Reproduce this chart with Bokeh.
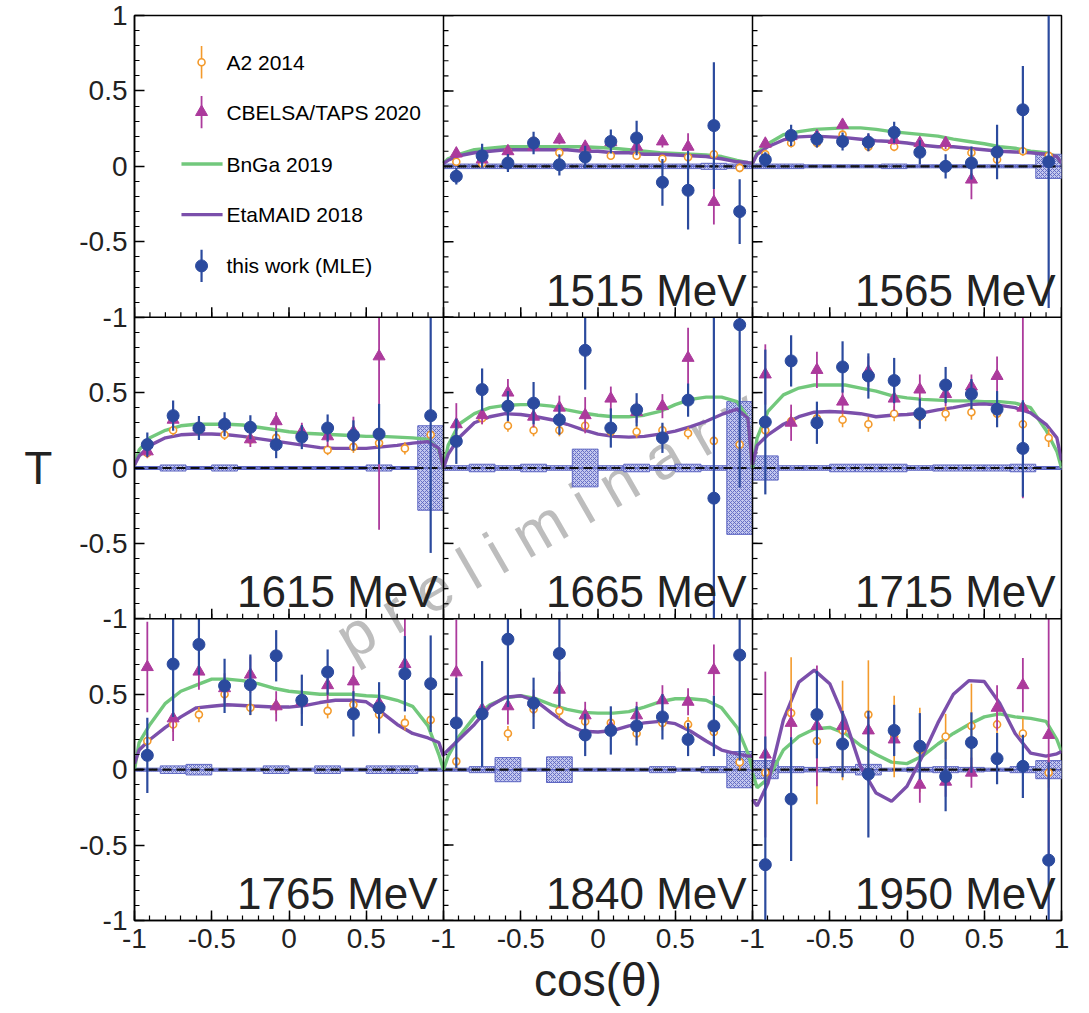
from bokeh.plotting import figure
from bokeh.models import Range1d, FixedTicker, Label, Span
from bokeh.core.properties import value
from bokeh.embed import file_html
from bokeh.resources import INLINE

NAN = float("nan")
FONT = "Liberation Sans"

# ---------------- data ----------------
ENERGIES = ["1515 MeV", "1565 MeV", "1615 MeV", "1665 MeV",
            "1715 MeV", "1765 MeV", "1840 MeV", "1950 MeV"]
PANEL_ROW = [0, 0, 1, 1, 1, 2, 2, 2]
PANEL_COL = [1, 2, 0, 1, 2, 0, 1, 2]

COS_BINS = [-0.917, -0.75, -0.583, -0.417, -0.25, -0.083,
            0.083, 0.25, 0.417, 0.583, 0.75, 0.917]
BIN_WIDTH = 1.0 / 6.0

# this work (MLE)
MLE_T = [
    [-0.066, 0.07, 0.022, 0.155, 0.01, 0.062, 0.165, 0.188, -0.106, -0.159, 0.27, -0.30],
    [0.044, 0.205, 0.18, 0.165, 0.16, 0.225, 0.093, 0.0, 0.022, 0.095, 0.375, 0.03],
    [0.155, 0.347, 0.265, 0.29, 0.27, 0.155, 0.205, 0.265, 0.216, 0.225, NAN, 0.347],
    [0.177, 0.52, 0.41, 0.43, 0.32, 0.78, 0.265, 0.386, 0.2, 0.45, -0.2, 0.95],
    [0.305, 0.71, 0.3, 0.67, 0.61, 0.58, 0.36, 0.55, 0.49, 0.39, 0.13, NAN],
    [0.095, 0.70, 0.83, 0.556, 0.563, 0.755, 0.46, 0.647, 0.37, 0.41, 0.636, 0.57],
    [0.31, 0.37, 0.865, 0.44, 0.77, 0.23, 0.26, 0.29, 0.35, 0.2, 0.29, 0.76],
    [-0.63, -0.195, 0.365, 0.17, -0.03, 0.26, 0.155, -0.045, 0.18, 0.073, 0.022, -0.6],
]
MLE_ERR = [
    [0.055, 0.08, 0.06, 0.075, 0.07, 0.075, 0.08, 0.115, 0.155, 0.26, 0.42, 0.215],
    [0.05, 0.07, 0.055, 0.06, 0.06, 0.07, 0.08, 0.08, 0.11, 0.18, 0.29, 0.97],
    [0.08, 0.1, 0.08, 0.08, 0.08, 0.09, 0.08, 0.09, 0.1, 0.2, NAN, 0.91],
    [0.15, 0.14, 0.1, 0.14, 0.1, 0.26, 0.13, 0.11, 0.1, 0.11, 1.4, 1.08],
    [0.48, 0.17, 0.14, 0.17, 0.15, 0.15, 0.1, 0.12, 0.1, 0.12, 0.32, NAN],
    [0.25, 0.35, 0.2, 0.18, 0.2, 0.17, 0.17, 0.15, 0.15, 0.17, 0.25, 0.32],
    [0.3, 0.35, 0.45, 0.17, 0.35, 0.14, 0.16, 0.13, 0.15, 0.11, 0.2, 0.7],
    [0.85, 0.41, 0.29, 0.22, 0.42, 0.17, 0.22, 0.23, 0.2, 0.17, 0.21, 0.65],
]
# CBELSA/TAPS 2020
CB_T = [
    [0.085, 0.045, 0.10, 0.13, 0.177, 0.13, 0.16, 0.13, 0.165, 0.13, -0.236, NAN],
    [0.15, 0.2, 0.2, 0.275, 0.17, 0.175, 0.155, 0.155, -0.088, NAN, NAN, NAN],
    [0.11, 0.32, 0.27, 0.29, 0.19, 0.31, 0.24, 0.21, 0.24, 0.74, NAN, NAN],
    [0.29, 0.35, 0.5, 0.34, 0.4, 0.35, 0.46, 0.37, 0.41, 0.73, NAN, NAN],
    [0.62, 0.3, 0.65, 0.44, 0.64, 0.46, 0.52, 0.49, 0.54, 0.61, 0.4, NAN],
    [0.68, 0.34, 0.65, 0.54, 0.63, 0.42, 0.45, 0.56, 0.585, 0.44, 0.7, NAN],
    [0.645, 0.4, 0.42, 0.45, 0.53, 0.36, 0.28, 0.36, 0.46, 0.45, 0.66, NAN],
    [0.1, 0.31, 0.29, 0.29, 0.26, 0.2, -0.1, -0.08, -0.02, 0.41, 0.56, 0.23],
]
CB_ERR = [
    [0.03, 0.03, 0.03, 0.03, 0.03, 0.03, 0.04, 0.04, 0.04, 0.09, 0.15, NAN],
    [0.03, 0.03, 0.03, 0.03, 0.03, 0.03, 0.04, 0.04, 0.13, NAN, NAN, NAN],
    [0.04, 0.05, 0.05, 0.05, 0.05, 0.06, 0.06, 0.07, 0.1, 1.15, NAN, NAN],
    [0.14, 0.06, 0.09, 0.07, 0.08, 0.12, 0.08, 0.07, 0.08, 0.2, NAN, NAN],
    [0.2, 0.12, 0.12, 0.08, 0.1, 0.08, 0.1, 0.08, 0.08, 0.13, 0.6, NAN],
    [0.3, 0.15, 0.12, 0.1, 0.12, 0.1, 0.08, 0.1, 0.1, 0.1, 0.3, NAN],
    [0.35, 0.1, 0.12, 0.08, 0.12, 0.09, 0.08, 0.09, 0.1, 0.09, 0.17, NAN],
    [0.55, 0.1, 0.4, 0.1, 0.1, 0.1, 0.12, 0.1, 0.1, 0.15, 0.18, 0.8],
]
# A2 2014
A2_T = [
    [0.03, 0.02, 0.1, 0.17, 0.09, 0.12, 0.07, 0.07, 0.05, 0.06, 0.08, -0.01],
    [0.08, 0.155, 0.155, 0.21, 0.13, 0.13, 0.13, 0.13, 0.09, 0.045, 0.1, 0.07],
    [0.1, 0.25, 0.25, 0.22, 0.19, 0.2, 0.2, 0.12, 0.14, 0.165, 0.13, 0.22],
    [0.19, 0.33, 0.28, 0.25, 0.25, 0.28, 0.24, 0.24, 0.25, 0.23, 0.18, 0.155],
    [0.25, 0.31, 0.33, 0.32, 0.29, 0.36, 0.34, 0.36, 0.37, 0.36, 0.29, 0.2],
    [0.19, 0.3, 0.365, 0.5, 0.41, 0.42, 0.45, 0.39, 0.43, 0.365, 0.31, 0.33],
    [0.055, 0.37, 0.24, 0.4, 0.39, 0.32, 0.31, 0.24, 0.31, 0.3, 0.25, 0.05],
    [-0.02, 0.375, 0.19, 0.26, 0.365, 0.22, 0.13, 0.22, 0.29, 0.3, 0.24, -0.02],
]
A2_ERR = [
    [0.025, 0.025, 0.025, 0.025, 0.025, 0.025, 0.025, 0.025, 0.025, 0.03, 0.03, 0.03],
    [0.03, 0.03, 0.03, 0.03, 0.03, 0.03, 0.03, 0.03, 0.03, 0.03, 0.03, 0.03],
    [0.035, 0.035, 0.035, 0.035, 0.035, 0.035, 0.035, 0.035, 0.04, 0.04, 0.04, 0.05],
    [0.04, 0.04, 0.04, 0.04, 0.04, 0.04, 0.04, 0.04, 0.04, 0.04, 0.04, 0.05],
    [0.05, 0.05, 0.05, 0.05, 0.05, 0.05, 0.05, 0.05, 0.05, 0.05, 0.05, 0.06],
    [0.05, 0.05, 0.05, 0.05, 0.05, 0.05, 0.05, 0.05, 0.05, 0.05, 0.05, 0.05],
    [0.05, 0.05, 0.05, 0.05, 0.05, 0.05, 0.05, 0.05, 0.05, 0.05, 0.05, 0.05],
    [0.1, 0.37, 0.42, 0.33, 0.36, 0.27, 0.28, 0.15, 0.28, 0.1, 0.1, 0.1],
]
# systematic uncertainty (half height of boxes)
SYS = [
    [0.015, 0.015, 0.015, 0.015, 0.015, 0.015, 0.015, 0.015, 0.015, 0.015, 0.02, 0.015],
    [0.015, 0.015, 0.01, 0.01, 0.01, 0.015, 0.01, 0.01, 0.01, 0.01, 0.01, 0.08],
    [0.01, 0.02, 0.01, 0.02, 0.01, 0.01, 0.01, 0.01, 0.01, 0.02, 0.01, 0.28],
    [0.015, 0.025, 0.015, 0.025, 0.015, 0.125, 0.015, 0.025, 0.015, 0.025, 0.015, 0.44],
    [0.08, 0.015, 0.015, 0.025, 0.025, 0.025, 0.015, 0.02, 0.02, 0.02, 0.025, 0.01],
    [0.01, 0.025, 0.035, 0.01, 0.01, 0.025, 0.01, 0.025, 0.01, 0.025, 0.025, 0.01],
    [0.01, 0.02, 0.08, 0.01, 0.085, 0.01, 0.01, 0.01, 0.02, 0.01, 0.02, 0.12],
    [0.06, 0.02, 0.015, 0.02, 0.035, 0.01, 0.015, 0.02, 0.015, 0.01, 0.02, 0.06],
]

# model curves
CURVE_COS = [-1, -0.97, -0.9, -0.8, -0.7, -0.6, -0.5, -0.4, -0.3, -0.2, -0.1, 0,
             0.1, 0.2, 0.3, 0.4, 0.5, 0.6, 0.7, 0.8, 0.9, 0.97, 1]
BNGA_T = [
    [0.02, 0.05, 0.08, 0.11, 0.12, 0.13, 0.13, 0.13, 0.13, 0.13, 0.13, 0.125, 0.12, 0.11, 0.1, 0.09, 0.085, 0.08, 0.075, 0.065, 0.04, 0.025, 0.02],
    [0.02, 0.09, 0.15, 0.21, 0.23, 0.245, 0.25, 0.255, 0.255, 0.245, 0.23, 0.22, 0.21, 0.2, 0.18, 0.165, 0.15, 0.13, 0.12, 0.1, 0.09, 0.065, 0.02],
    [0.02, 0.12, 0.2, 0.25, 0.28, 0.29, 0.29, 0.29, 0.285, 0.27, 0.255, 0.24, 0.23, 0.225, 0.22, 0.215, 0.21, 0.21, 0.205, 0.2, 0.19, 0.12, 0.0],
    [0.0, 0.15, 0.29, 0.36, 0.4, 0.415, 0.42, 0.42, 0.41, 0.385, 0.365, 0.35, 0.34, 0.34, 0.35, 0.375, 0.42, 0.455, 0.47, 0.47, 0.44, 0.33, 0.0],
    [0.0, 0.2, 0.375, 0.485, 0.53, 0.55, 0.55, 0.55, 0.53, 0.51, 0.48, 0.465, 0.455, 0.45, 0.445, 0.445, 0.44, 0.44, 0.43, 0.4, 0.25, 0.11, 0.0],
    [0.0, 0.18, 0.3, 0.44, 0.52, 0.56, 0.6, 0.6, 0.59, 0.57, 0.54, 0.52, 0.51, 0.5, 0.5, 0.5, 0.49, 0.485, 0.46, 0.42, 0.29, 0.1, 0.0],
    [0.0, 0.09, 0.22, 0.35, 0.43, 0.475, 0.49, 0.47, 0.43, 0.4, 0.38, 0.375, 0.375, 0.385, 0.415, 0.45, 0.47, 0.47, 0.46, 0.41, 0.28, 0.11, 0.0],
    [-0.02, -0.12, -0.06, 0.13, 0.22, 0.27, 0.28, 0.24, 0.16, 0.1, 0.05, 0.04, 0.09, 0.17, 0.24, 0.3, 0.35, 0.37, 0.35, 0.34, 0.32, 0.2, 0.12],
]
MAID_T = [
    [0.02, 0.04, 0.07, 0.09, 0.1, 0.11, 0.11, 0.11, 0.11, 0.11, 0.1, 0.1, 0.09, 0.09, 0.08, 0.08, 0.075, 0.07, 0.065, 0.05, 0.03, 0.025, 0.02],
    [0.02, 0.08, 0.13, 0.175, 0.195, 0.2, 0.195, 0.19, 0.18, 0.17, 0.165, 0.155, 0.14, 0.13, 0.13, 0.12, 0.11, 0.1, 0.095, 0.09, 0.08, 0.065, 0.02],
    [0.02, 0.08, 0.15, 0.2, 0.22, 0.225, 0.225, 0.22, 0.21, 0.195, 0.18, 0.165, 0.15, 0.135, 0.13, 0.13, 0.13, 0.14, 0.15, 0.165, 0.175, 0.13, 0.0],
    [0.0, 0.09, 0.2, 0.3, 0.34, 0.36, 0.355, 0.34, 0.32, 0.29, 0.255, 0.225, 0.21, 0.205, 0.21, 0.225, 0.245, 0.275, 0.31, 0.355, 0.39, 0.33, 0.0],
    [0.02, 0.15, 0.22, 0.29, 0.34, 0.37, 0.375, 0.37, 0.36, 0.34, 0.35, 0.355, 0.365, 0.385, 0.4, 0.42, 0.425, 0.415, 0.4, 0.365, 0.29, 0.2, 0.05],
    [0.04, 0.13, 0.2, 0.28, 0.35, 0.41, 0.42, 0.43, 0.425, 0.42, 0.415, 0.415, 0.425, 0.445, 0.46, 0.46, 0.45, 0.38, 0.3, 0.24, 0.21, 0.18, 0.09],
    [0.1, 0.13, 0.2, 0.3, 0.42, 0.48, 0.49, 0.455, 0.375, 0.3, 0.255, 0.25, 0.26, 0.29, 0.31, 0.32, 0.305, 0.255, 0.19, 0.13, 0.105, 0.09, 0.09],
    [-0.2, -0.24, -0.09, 0.33, 0.58, 0.66, 0.57, 0.33, 0.02, -0.155, -0.21, -0.11, 0.09, 0.31, 0.5, 0.59, 0.585, 0.44, 0.24, 0.11, 0.09, 0.105, 0.12],
]

LEGEND_LABELS = ["A2 2014", "CBELSA/TAPS 2020", "BnGa 2019", "EtaMAID 2018", "this work (MLE)"]
TICK_LABELS = ["-1", "-0.5", "0", "0.5"] * 3 + ["1"]

# ---------------- styles ----------------
C_A2 = "#f39a2c"
C_CB = "#ac3a9c"
C_BNGA = "#72c87c"
C_MAID = "#7b4fab"
C_MLE = "#2b4a9e"
C_SYS_FILL = "#c3c7ee"
C_SYS_LINE = "#5d66c2"
TXT = "#222222"

FRAME_W, FRAME_H = 927, 905

p = figure(frame_width=FRAME_W, frame_height=FRAME_H,
           x_range=Range1d(0, 6), y_range=Range1d(0, 6),
           output_backend="svg", toolbar_location=None,
           min_border_left=134, min_border_right=28,
           min_border_top=15, min_border_bottom=93)
p.xgrid.visible = False
p.ygrid.visible = False
p.outline_line_color = "black"
p.outline_line_width = 1.5
p.background_fill_color = "white"
p.border_fill_color = "white"

p.extra_x_ranges = {f"x{c}": Range1d(-1 - 2 * c, 5 - 2 * c) for c in range(3)}
p.extra_y_ranges = {f"y{r}": Range1d(-1 - 2 * (2 - r), 5 - 2 * (2 - r)) for r in range(3)}

major = [k * 0.5 for k in range(13)]
minor = [round(k * 0.1, 3) for k in range(61)]
overrides = {major[k]: TICK_LABELS[k] for k in range(13)}
for ax in (p.xaxis[0], p.yaxis[0]):
    ax.ticker = FixedTicker(ticks=major, minor_ticks=minor)
    ax.major_label_overrides = overrides
    ax.major_tick_in = 10
    ax.major_tick_out = 0
    ax.minor_tick_in = 5
    ax.minor_tick_out = 0
    ax.major_tick_line_width = 1.5
    ax.minor_tick_line_width = 1.2
    ax.axis_line_width = 1.5
    ax.major_label_text_font = FONT
    ax.major_label_text_font_size = "28px"
    ax.major_label_text_color = TXT
    ax.axis_label_text_font = FONT
    ax.axis_label_text_font_style = "normal"
    ax.axis_label_text_color = TXT
p.xaxis[0].major_label_standoff = 8
p.yaxis[0].major_label_standoff = 7
p.xaxis[0].axis_label = "cos(\u03b8)"
p.xaxis[0].axis_label_text_font_size = "46px"
p.xaxis[0].axis_label_standoff = 3
p.yaxis[0].axis_label = "T"
p.yaxis[0].axis_label_text_font_size = "46px"
p.yaxis[0].axis_label_standoff = 24
try:
    p.yaxis[0].axis_label_orientation = "horizontal"
except Exception:
    pass

# internal panel boundaries with inward ticks
for b in (2, 4):
    p.add_layout(Span(location=b, dimension="height", line_color="black", line_width=1.5))
    p.add_layout(Span(location=b, dimension="width", line_color="black", line_width=1.5))
dxm, dxn = 10 * 6 / FRAME_W, 5 * 6 / FRAME_W
dym, dyn = 10 * 6 / FRAME_H, 5 * 6 / FRAME_H
for b in (2, 4):
    p.segment(x0=[b] * len(major), y0=major, x1=[b + dxm] * len(major), y1=major,
              line_color="black", line_width=1.5)
    p.segment(x0=[b] * len(minor), y0=minor, x1=[b + dxn] * len(minor), y1=minor,
              line_color="black", line_width=1.2)
    p.segment(x0=major, y0=[b] * len(major), x1=major, y1=[b + dym] * len(major),
              line_color="black", line_width=1.5)
    p.segment(x0=minor, y0=[b] * len(minor), x1=minor, y1=[b + dyn] * len(minor),
              line_color="black", line_width=1.2)

# watermark (under the data)
p.add_layout(Label(x=2.667, y=2.63, text="p r e l i m i n a r y",
                   angle=30, angle_units="deg", text_font=FONT,
                   text_font_size="62px", text_align="center", text_baseline="middle",
                   text_color="#bdbdbd", level="underlay"))


def valid(xs, ys, es):
    out = [(x, y, e) for x, y, e in zip(xs, ys, es) if y == y and e == e]
    return ([o[0] for o in out], [o[1] for o in out], [o[2] for o in out])


for i, energy in enumerate(ENERGIES):
    kw = dict(x_range_name=f"x{PANEL_COL[i]}", y_range_name=f"y{PANEL_ROW[i]}")
    # systematic boxes
    p.rect(x=COS_BINS, y=[0] * len(COS_BINS), width=BIN_WIDTH,
           height=[2 * s for s in SYS[i]], fill_color=C_SYS_FILL,
           hatch_pattern="x", hatch_color=C_SYS_LINE, hatch_scale=4, hatch_weight=0.9,
           line_color=C_SYS_LINE, line_width=1, **kw)
    p.line(x=[-1, 1], y=[0, 0], line_color=C_SYS_LINE, line_width=1.5, **kw)
    p.line(x=[-1, 1], y=[0, 0], line_color="#111111", line_width=2.2,
           line_dash="9 5", **kw)
    # model curves
    p.line(x=CURVE_COS, y=BNGA_T[i], line_color=C_BNGA, line_width=3.4, **kw)
    p.line(x=CURVE_COS, y=MAID_T[i], line_color=C_MAID, line_width=3.4, **kw)
    # A2 2014
    xs, ys, es = valid(COS_BINS, A2_T[i], A2_ERR[i])
    p.segment(x0=xs, x1=xs, y0=[max(y - e, -1) for y, e in zip(ys, es)],
              y1=[min(y + e, 1) for y, e in zip(ys, es)],
              line_color=C_A2, line_width=1.6, **kw)
    p.scatter(x=xs, y=ys, marker="circle", size=7, fill_color="white",
              line_color=C_A2, line_width=1.6, **kw)
    # CBELSA/TAPS 2020
    xs, ys, es = valid(COS_BINS, CB_T[i], CB_ERR[i])
    p.segment(x0=xs, x1=xs, y0=[max(y - e, -1) for y, e in zip(ys, es)],
              y1=[min(y + e, 1) for y, e in zip(ys, es)],
              line_color=C_CB, line_width=1.8, **kw)
    p.scatter(x=xs, y=ys, marker="triangle", size=12, fill_color=C_CB,
              line_color=C_CB, **kw)
    # this work
    xs, ys, es = valid(COS_BINS, MLE_T[i], MLE_ERR[i])
    p.segment(x0=xs, x1=xs, y0=[max(y - e, -1) for y, e in zip(ys, es)],
              y1=[min(y + e, 1) for y, e in zip(ys, es)],
              line_color=C_MLE, line_width=2.2, **kw)
    p.scatter(x=xs, y=ys, marker="circle", size=12, fill_color=C_MLE,
              line_color=C_MLE, **kw)
    # energy label
    p.text(x=[0.962], y=[-0.82], text=[energy], text_align="right",
           text_baseline="alphabetic", text_font=value(FONT),
           text_font_size="44px", text_color=TXT, **kw)

# ---------------- legend (top-left panel) ----------------
lk = dict(x_range_name="x0", y_range_name="y0")
LEG_Y = [0.69, 0.36, 0.015, -0.32, -0.66]
LEG_MX, LEG_TX = -0.566, -0.405
LEG_ERR = 0.107
p.segment(x0=[LEG_MX], x1=[LEG_MX], y0=[LEG_Y[0] - LEG_ERR], y1=[LEG_Y[0] + LEG_ERR],
          line_color=C_A2, line_width=1.6, **lk)
p.scatter(x=[LEG_MX], y=[LEG_Y[0]], marker="circle", size=7, fill_color="white",
          line_color=C_A2, line_width=1.6, **lk)
p.segment(x0=[LEG_MX], x1=[LEG_MX], y0=[LEG_Y[1] - LEG_ERR], y1=[LEG_Y[1] + LEG_ERR],
          line_color=C_CB, line_width=1.8, **lk)
p.scatter(x=[LEG_MX], y=[LEG_Y[1]], marker="triangle", size=12, fill_color=C_CB,
          line_color=C_CB, **lk)
p.line(x=[-0.696, -0.43], y=[LEG_Y[2]] * 2, line_color=C_BNGA, line_width=3.4, **lk)
p.line(x=[-0.696, -0.43], y=[LEG_Y[3]] * 2, line_color=C_MAID, line_width=3.4, **lk)
p.segment(x0=[LEG_MX], x1=[LEG_MX], y0=[LEG_Y[4] - LEG_ERR], y1=[LEG_Y[4] + LEG_ERR],
          line_color=C_MLE, line_width=2.2, **lk)
p.scatter(x=[LEG_MX], y=[LEG_Y[4]], marker="circle", size=12, fill_color=C_MLE,
          line_color=C_MLE, **lk)
p.text(x=[LEG_TX] * 5, y=LEG_Y, text=LEGEND_LABELS, text_align="left",
       text_baseline="middle", text_font=value(FONT), text_font_size="21px",
       text_color="black", **lk)

open("out.html", "w").write(file_html(p, INLINE))
